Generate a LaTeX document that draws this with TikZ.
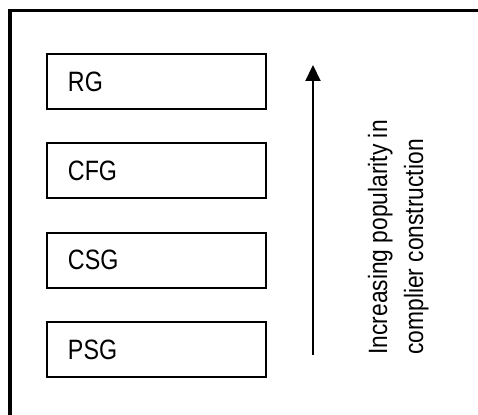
\documentclass[tikz,border=0pt]{standalone}
\usepackage{fontspec}
\setmainfont{Liberation Sans}
\usetikzlibrary{positioning}
\usetikzlibrary{arrows.meta}
\newcommand{\squeeze}[1]{\scalebox{0.83}[1]{#1}}
\newcommand{\squeezeup}[1]{\scalebox{0.86}[1]{#1}}

\begin{document}
\begin{tikzpicture}[x=0.5pt,y=0.5pt]
  % some styles
  \tikzset{
    gram/.style={
      rectangle,
      minimum height=27.5pt,
      text width=88.5pt,
      inner xsep=10.5pt,
      inner ysep=0pt,
      outer sep=0pt,
      align=left,
      line width=1pt,
      font=\fontsize{14}{17.5}\selectfont,
      draw
    }
  }
  \tikzset{frame/.style={line width=1.6pt,draw=black}}
  \tikzset{rise/.style={line width=1pt,-{Triangle[width=7.5pt,length=8pt]}}}

\useasboundingbox (0,0) rectangle (478,415);
\clip (0,0) rectangle (478,415);
\draw[frame] (10,404.5) rectangle (560,-60);

\node[gram] (rg) at (156.5,333.5) {\squeeze{RG}};
\node[gram,below=17.2pt of rg] (cfg) {\squeeze{CFG}};
\node[gram,below=17.2pt of cfg] (csg) {\squeeze{CSG}};
\node[gram,below=17.2pt of csg] (psg) {\squeeze{PSG}};

\coordinate (low) at (313,60);
\coordinate (high) at (313,350);
\draw[rise] (low) -- (high);

\node[rotate=90,anchor=base west,inner sep=0pt,align=left,
      font=\fontsize{13.25}{18}\selectfont] (label) at (423,60)
  {\squeezeup{Increasing popularity in}\\\squeezeup{complier construction}};

\end{tikzpicture}
\end{document}
